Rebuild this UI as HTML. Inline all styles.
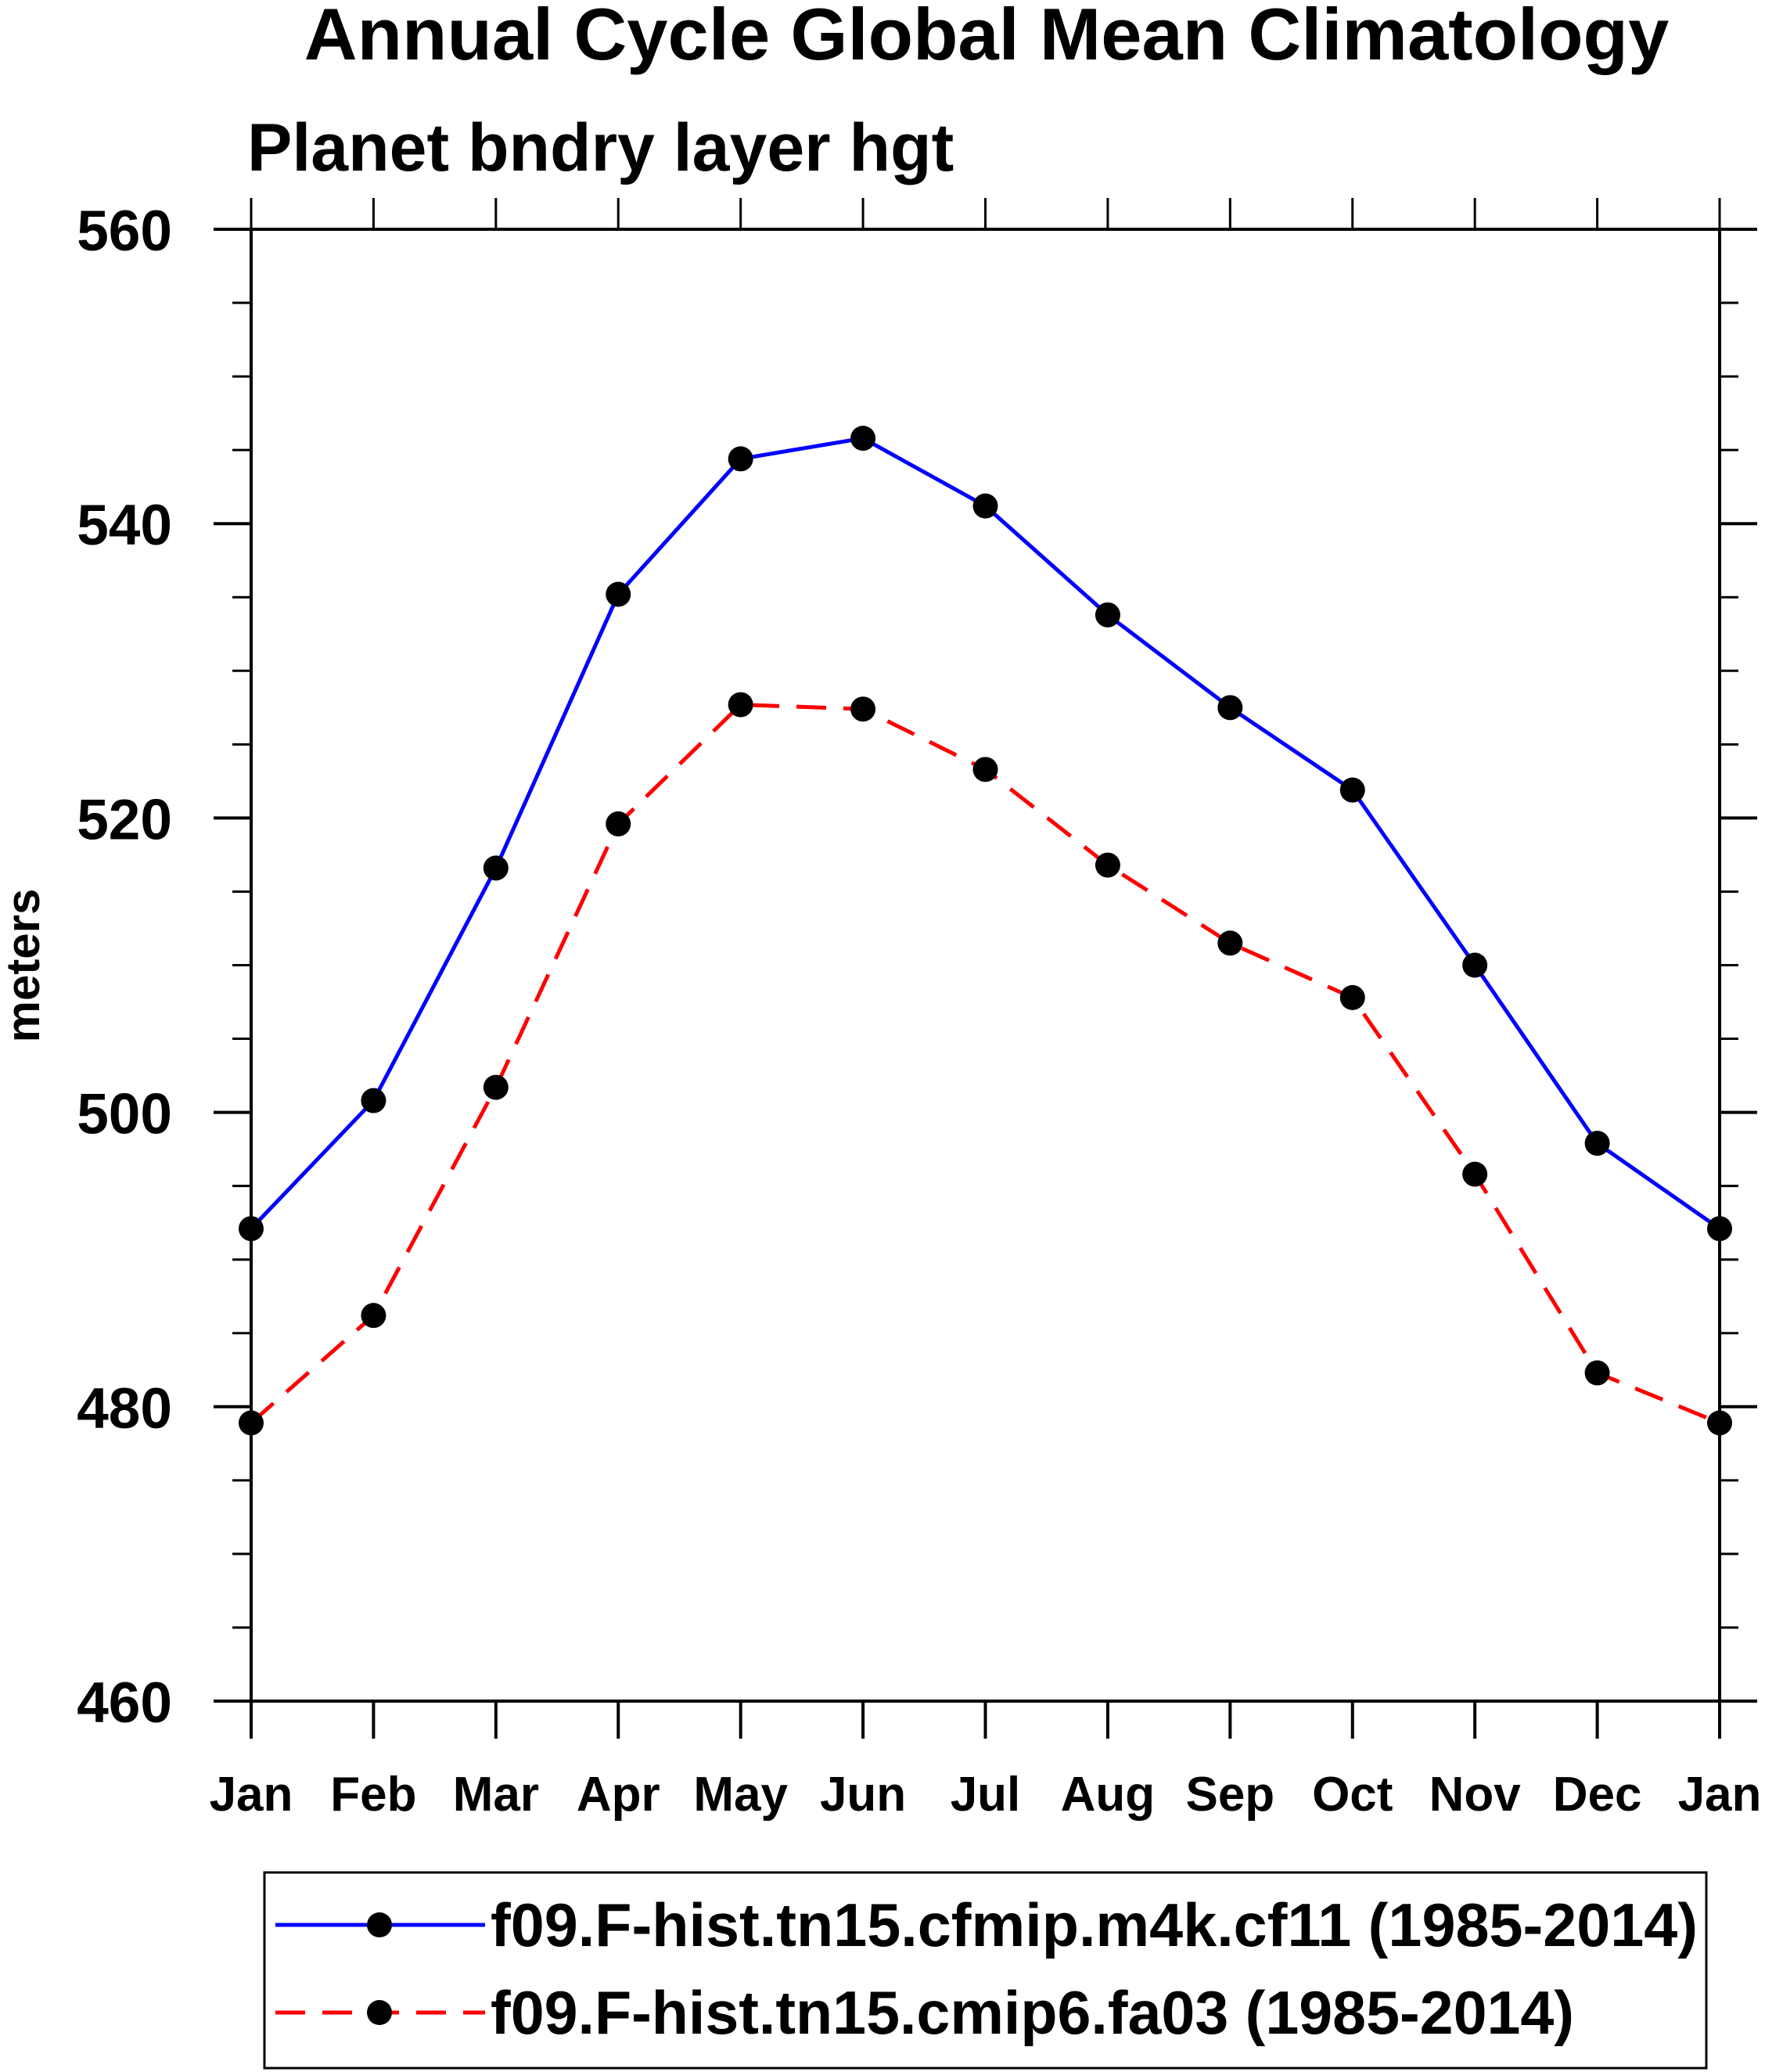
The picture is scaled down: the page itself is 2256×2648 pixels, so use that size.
<!DOCTYPE html>
<html><head><meta charset="utf-8"><style>
html,body{margin:0;padding:0;background:#fff;}
svg{display:block;font-family:"Liberation Sans",Arial,sans-serif;font-weight:bold;}
</style></head><body>
<svg id="chart" width="2256" height="2648" viewBox="0 0 2256 2648" xmlns="http://www.w3.org/2000/svg">
<text x="1261" y="76" font-size="94" text-anchor="middle">Annual Cycle Global Mean Climatology</text>
<text x="316" y="218" font-size="86">Planet bndry layer hgt</text>
<text transform="translate(50,1234) rotate(-90)" font-size="60" text-anchor="middle">meters</text>
<g id="axes"></g>
<g id="series"></g>
<rect x="338" y="2393" width="1843" height="250" fill="none" stroke="#000" stroke-width="3"/>
<g>
<line x1="352" y1="2460" x2="620" y2="2460" stroke="#0000ff" stroke-width="5"/>
<circle cx="485" cy="2460" r="16" fill="#000"/>
<text x="627" y="2487" font-size="78" textLength="1543" lengthAdjust="spacingAndGlyphs">f09.F-hist.tn15.cfmip.m4k.cf11 (1985-2014)</text>
</g>
<g>
<line x1="352" y1="2572" x2="620" y2="2572" stroke="#ff0000" stroke-width="5" stroke-dasharray="38,22"/>
<circle cx="485" cy="2572" r="16" fill="#000"/>
<text x="627" y="2599" font-size="78" textLength="1385" lengthAdjust="spacingAndGlyphs">f09.F-hist.tn15.cmip6.fa03 (1985-2014)</text>
</g>
</svg>
<script>
const months = ["Jan","Feb","Mar","Apr","May","Jun","Jul","Aug","Sep","Oct","Nov","Dec","Jan"];
const cf11 = [492.1,500.8,516.6,535.2,544.4,545.8,541.2,533.8,527.5,521.9,510.0,497.9,492.1];
const fa03 = [478.9,486.2,501.7,519.6,527.7,527.4,523.3,516.8,511.5,507.8,495.8,482.3,478.9];
const yTicks = [460,480,500,520,540,560];

const NS="http://www.w3.org/2000/svg";
const L=321,R=2198,T=293,B=2174,ymin=460,ymax=560;
function xS(i){return L+(R-L)*i/(months.length-1);}
function yS(v){return B-(B-T)*(v-ymin)/(ymax-ymin);}
function mk(tag,attrs,parent){const e=document.createElementNS(NS,tag);for(const k in attrs)e.setAttribute(k,attrs[k]);parent.appendChild(e);return e;}
const ax=document.getElementById('axes');
const frame=mk('rect',{x:L,y:T,width:R-L,height:B-T,fill:'none',stroke:'#000','stroke-width':4},ax);


months.forEach((m,i)=>{
  const x=xS(i);
  const t1=mk('line',{x1:x,y1:B,x2:x,y2:B+48,stroke:'#000','stroke-width':4},ax);
  
  
  const t2=mk('line',{x1:x,y1:T,x2:x,y2:T-40,stroke:'#000','stroke-width':3},ax);
  
  
  const lb=mk('text',{x:x,y:2314,'font-size':62,'text-anchor':'middle'},ax);
  lb.textContent=m;
  
  
});
for(let v=ymin;v<=ymax;v+=5){
  const y=yS(v);const major=(v%20===0);
  const len=major?48:24;
  const a=mk('line',{x1:L-len,y1:y,x2:L,y2:y,stroke:'#000','stroke-width':major?4:3},ax);
  
  
  const b=mk('line',{x1:R,y1:y,x2:R+len,y2:y,stroke:'#000','stroke-width':major?4:3},ax);
  
  
}
yTicks.forEach(v=>{
  const lb=mk('text',{x:220,y:yS(v)+27,'font-size':73,'text-anchor':'end'},ax);
  lb.textContent=v;
  
  
});
const sg=document.getElementById('series');
function drawSeries(vals,color,dash,name){
  const pts=vals.map((v,i)=>xS(i)+','+yS(v)).join(' ');
  const pl=mk('polyline',{points:pts,fill:'none',stroke:color,'stroke-width':5},sg);
  if(dash)pl.setAttribute('stroke-dasharray',dash);
  
  
  vals.forEach((v,i)=>{
    const c=mk('circle',{cx:xS(i),cy:yS(v),r:16,fill:'#000'},sg);
    
    
  });
}
drawSeries(cf11,'#0000ff',null,'cf11');
drawSeries(fa03,'#ff0000','38,22','fa03');
</script>
</body></html>
